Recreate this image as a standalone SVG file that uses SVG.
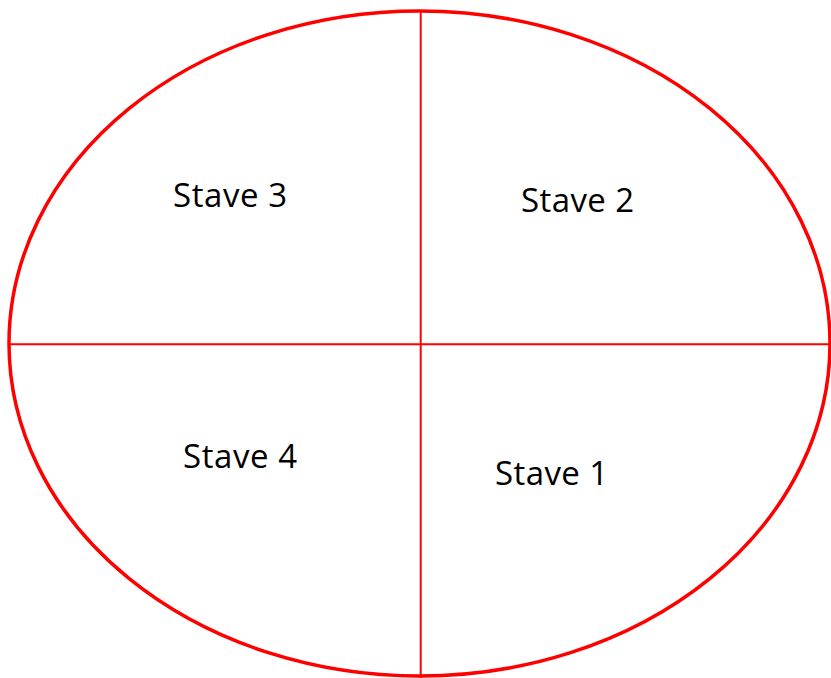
<svg xmlns="http://www.w3.org/2000/svg" width="831" height="678" viewBox="0 0 831 678">
<style>
.ln{stroke:#ff0000;fill:none}
.lb{font-family:"Open Sans","Liberation Sans",sans-serif;font-size:33px;fill:#000}
</style>
<rect width="831" height="678" fill="#fff"/>
<g id="connectors">
<ellipse class="ln" cx="419.5" cy="343.5" rx="410.5" ry="332.5" stroke-width="3.5"/>
<line class="ln" x1="420.7" y1="11" x2="420.7" y2="678" stroke-width="2"/>
<line class="ln" x1="9" y1="344.3" x2="831" y2="344.3" stroke-width="2"/>
</g>
<g id="stave3"><text class="lb" x="173" y="207" textLength="114">Stave 3</text></g>
<g id="stave2"><text class="lb" x="521" y="212" textLength="113">Stave 2</text></g>
<g id="stave4"><text class="lb" x="183" y="468" textLength="114">Stave 4</text></g>
<g id="stave1"><text class="lb" x="495" y="485" textLength="113">Stave 1</text></g>
</svg>
